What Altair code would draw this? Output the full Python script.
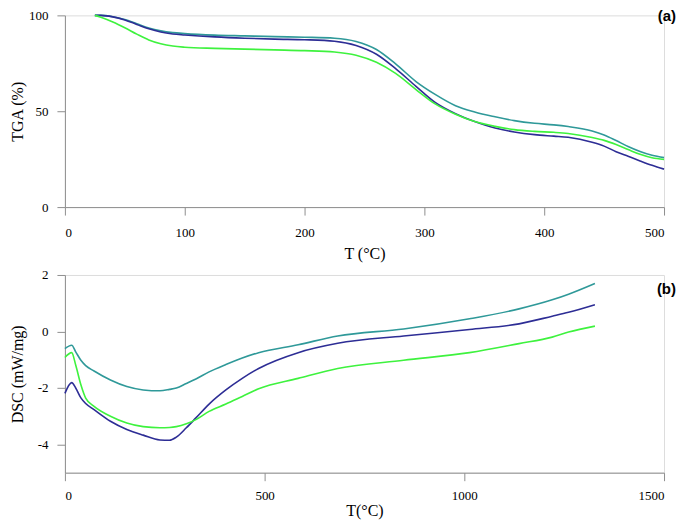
import altair as alt
import pandas as pd

SERIES = ["teal", "navy", "green"]
COLORS = ["#2f9999", "#2d2d95", "#3ef23e"]

# ---------------- TGA panel (a) ----------------
tga_t = [25, 30, 40, 50, 60, 70, 80, 90, 100, 125, 150, 175, 200, 225, 243, 260, 276,
         293, 309, 326, 342, 359, 375, 392, 408, 420, 440, 450, 460, 470, 480, 490, 500]
tga_teal = [100, 100, 99.3, 97.8, 95.6, 93.4, 91.9, 91.0, 90.5, 89.7, 89.3, 88.9, 88.6,
            88.1, 86.4, 82.2, 74.7, 65.5, 58.8, 52.9, 49.6, 47.1, 45.1, 43.7, 42.9, 42.0,
            39.7, 37.6, 34.7, 31.6, 29.0, 27.0, 25.8]
tga_navy = [100, 100, 99.2, 97.6, 95.3, 93.0, 91.3, 90.3, 89.8, 88.8, 88.1, 87.6, 87.3,
            86.5, 84.3, 79.7, 72.2, 63.0, 54.6, 48.7, 44.6, 41.2, 39.2, 37.8, 37.0, 36.4,
            33.8, 31.8, 28.9, 26.5, 24.1, 21.8, 19.8]
tga_green = [100, 99.0, 96.5, 93.5, 90.2, 87.2, 85.2, 84.0, 83.4, 82.8, 82.4, 82.0, 81.6,
             80.9, 79.2, 75.5, 69.7, 61.3, 53.8, 48.4, 44.6, 42.1, 40.4, 39.5, 39.0, 38.4,
             36.3, 34.8, 32.6, 30.0, 27.5, 25.7, 24.8]
tga_ticks_x = [0, 100, 200, 300, 400, 500]
tga_ticks_y = [0, 50, 100]

# ---------------- DSC panel (b) ----------------
dsc_t = [0, 17, 27, 40, 52, 73, 114, 155, 196, 238, 262, 279, 304, 328, 361, 403, 444,
         485, 584, 683, 848, 1013, 1137, 1220, 1261, 1327]
dsc_teal = [-0.61, -0.49, -0.72, -1.02, -1.21, -1.40, -1.72, -1.95, -2.07, -2.10, -2.05,
            -2.00, -1.84, -1.68, -1.43, -1.17, -0.94, -0.75, -0.47, -0.16, 0.09, 0.45,
            0.80, 1.12, 1.32, 1.70]
dsc_navy = [-2.19, -1.81, -2.00, -2.35, -2.55, -2.77, -3.18, -3.47, -3.67, -3.84, -3.85,
            -3.74, -3.41, -3.06, -2.57, -2.07, -1.66, -1.31, -0.75, -0.42, -0.16, 0.07,
            0.27, 0.54, 0.68, 0.95]
dsc_green = [-0.92, -0.75, -1.19, -1.89, -2.36, -2.65, -3.00, -3.24, -3.37, -3.41, -3.40,
             -3.37, -3.27, -3.12, -2.83, -2.57, -2.30, -2.03, -1.66, -1.31, -1.02, -0.75,
             -0.43, -0.20, -0.02, 0.19]
dsc_ticks_x = [0, 500, 1000, 1500]
dsc_ticks_y = [-4, -2, 0, 2]


def long_table(t, series_values):
    rows = []
    for name, vals in zip(SERIES, series_values):
        for ti, v in zip(t, vals):
            rows.append({"T": ti, "v": v, "s": name})
    return pd.DataFrame(rows)


tga_df = long_table(tga_t, [tga_teal, tga_navy, tga_green])
dsc_df = long_table(dsc_t, [dsc_teal, dsc_navy, dsc_green])

W = 600
AXIS_GRAY = "#8f8f8f"
SERIF = "Liberation Serif, Times New Roman, serif"
common = dict(
    domainColor=AXIS_GRAY, tickColor=AXIS_GRAY, tickSize=8, grid=False,
    labelFont=SERIF, labelFontSize=13, labelColor="black",
    titleFont=SERIF, titleFontSize=16, titleFontWeight="normal",
    titleColor="black", domainWidth=1, tickWidth=1,
)
color = alt.Color("s:N", scale=alt.Scale(domain=SERIES, range=COLORS), legend=None)
minus_expr = "datum.value < 0 ? '-' + abs(datum.value) : '' + datum.value"

# top panel
H1 = 192
tga_lines = alt.Chart(tga_df).mark_line(strokeWidth=1.6, interpolate="monotone").encode(
    x=alt.X("T:Q", scale=alt.Scale(domain=[0, 500], nice=False),
            axis=alt.Axis(values=tga_ticks_x, title="T (°C)", labelPadding=11,
                          titlePadding=6, format="d", **common)),
    y=alt.Y("v:Q", scale=alt.Scale(domain=[0, 100], nice=False),
            axis=alt.Axis(values=tga_ticks_y, title="TGA (%)", labelPadding=9,
                          titlePadding=3, format="d", **common)),
    color=color,
    detail="s:N",
)
tag_a = alt.Chart(pd.DataFrame({"t": ["(a)"]})).mark_text(
    font="Liberation Sans", fontWeight="bold", fontSize=15, align="right",
    baseline="top", color="black",
).encode(text="t:N", x=alt.value(W + 12), y=alt.value(-6))
top = alt.layer(tga_lines, tag_a).properties(width=W, height=H1)

# bottom panel
H2 = 198
dsc_lines = alt.Chart(dsc_df).mark_line(strokeWidth=1.6, interpolate="monotone").encode(
    x=alt.X("T:Q", scale=alt.Scale(domain=[0, 1500], nice=False),
            axis=alt.Axis(values=dsc_ticks_x, title="T(°C)", labelPadding=9,
                          titlePadding=0, format="d", **common)),
    y=alt.Y("v:Q", scale=alt.Scale(domain=[-5, 2], nice=False),
            axis=alt.Axis(values=dsc_ticks_y, title="DSC (mW/mg)", labelPadding=9,
                          titlePadding=12, labelExpr=minus_expr, **common)),
    color=color,
    detail="s:N",
)
tag_b = alt.Chart(pd.DataFrame({"t": ["(b)"]})).mark_text(
    font="Liberation Sans", fontWeight="bold", fontSize=15, align="right",
    baseline="top", color="black",
).encode(text="t:N", x=alt.value(W + 12), y=alt.value(7))
bottom = alt.layer(dsc_lines, tag_b).properties(width=W, height=H2)

chart = alt.vconcat(top, bottom, spacing=6).configure_view(stroke=None).configure(
    background="white"
).properties(padding=0)

chart.save("out.html", embed_options={"renderer": "svg", "actions": False})
